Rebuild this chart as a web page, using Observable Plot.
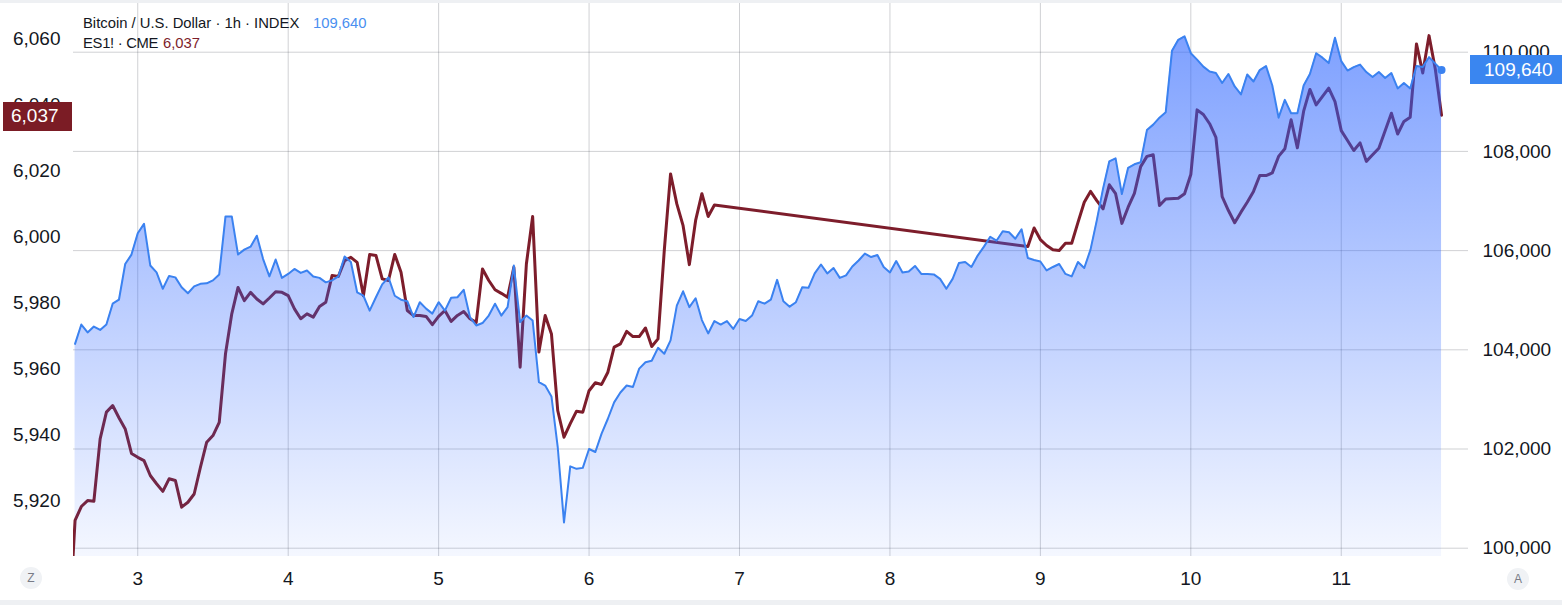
<!DOCTYPE html>
<html>
<head>
<meta charset="utf-8">
<script src="https://cdn.jsdelivr.net/npm/d3@7"></script>
<script src="https://cdn.jsdelivr.net/npm/@observablehq/plot@0.6"></script>
<style>
  html, body { margin: 0; padding: 0; background: #fff; }
  #wrap { position: relative; width: 1562px; height: 605px; overflow: hidden; font-family: "Liberation Sans", Arial, sans-serif; color: #131722; }
  #wrap svg { position: absolute; left: 0; top: 0; }
  .ov { position: absolute; white-space: nowrap; }
  .hdr { font-size: 14.8px; line-height: 20px; }
  .boxtxt { color: #fff; font-size: 19px; line-height: 14px; height: 14px; }
  .btn { width: 22px; height: 22px; border-radius: 50%; background: #f0f2f5; color: #787b86; font-size: 12px; line-height: 22px; text-align: center; }
</style>
</head>
<body>
<div id="wrap"></div>
<script>
// ---- data (hourly closes, UTC) ----
// Bitcoin / U.S. Dollar, 1h, from 2025-06-02 14:00 UTC
const btcClose = [
  104120,104510,104350,104470,104400,104510,104930,105010,105730,105920,
  106350,106540,105700,105560,105230,105490,105460,105260,105140,105280,
  105330,105340,105400,105520,106690,106690,105920,106020,106080,106300,
  105830,105480,105820,105450,105530,105630,105550,105600,105480,105450,
  105360,105400,105480,105880,105770,105160,105090,104790,105060,105320,
  105460,105090,105010,104980,104660,104960,104830,104730,104960,104790,
  105050,105060,105210,104660,104490,104540,104690,104930,104690,104860,
  105700,104560,104690,104590,103350,103280,103060,102040,100520,101650,
  101600,101620,102000,101940,102310,102610,102940,103140,103280,103250,
  103620,103750,103780,104040,103920,104190,104890,105180,104860,105040,
  104600,104330,104580,104510,104580,104420,104620,104580,104690,104980,
  104930,105010,105410,104980,104870,104960,105260,105250,105540,105720,
  105540,105650,105450,105500,105680,105800,105940,105870,105910,105670,
  105560,105790,105560,105580,105690,105530,105530,105520,105430,105230,
  105430,105750,105770,105670,105900,106080,106280,106200,106390,106370,
  106240,106430,105850,105810,105780,105600,105670,105730,105530,105480,
  105770,105650,106020,106610,107250,107800,107860,107140,107670,107740,
  107780,108430,108540,108680,108790,110030,110250,110320,109980,109850,
  109710,109610,109580,109380,109560,109310,109150,109550,109410,109640,
  109720,109330,108680,109040,108770,108770,109330,109560,109980,109890,
  109780,110290,109820,109630,109700,109750,109600,109500,109600,109480,
  109580,109270,109380,109270,109720,109700,109900,109770,109640
];
// ES1! (CME), 1h, week session from 2025-06-02 13:00 UTC to 2025-06-06 20:00 UTC
const esCloseWeek1 = [
  5880,
  5914.2,5918.4,5920.2,5920,5938.9,5947,5949,5945.3,5941.9,5934.5,
  5933.3,5932.3,5927.8,5925.3,5923,5926.8,5926.3,5918.2,5919.7,5922.2,
  5930.3,5937.9,5939.9,5943.9,5964.7,5976.8,5984.8,5980.8,5983.3,5981.3,
  5979.8,5981.6,5983.5,5983.3,5982.3,5978.3,5975.3,5976.8,5975.8,5979,
  5980.3,5988.4,5988.1,5992.9,5993.9,5992.4,5982.3,5994.8,5994.5,5987.4,
  5986.9,5994.8,5989.4,5977.8,5976.3,5976.3,5976,5973.5,5976,5977.8,
  5974.5,5976.3,5977.5,5975.3,5974.2,5990.4,5986.9,5984.1,5983,5981.8,
  5990.9,5960.6,5991.9,6006.3,5965.2,5976.3,5970.7,5947.5,5939.4,5943.5,
  5947.3,5947,5953.5,5955.9,5955.4,5959.1,5966.7,5967.7,5971.5,5969.9,
  5969.9,5972.5,5966.9,5969.2,5996,6019.2,6010.1,6003.5,5991.7,6005.1,
  6013.2,6006.3,6009.8
];
// ES1! from 2025-06-08 22:00 UTC to 2025-06-11 17:00 UTC (null = daily maintenance break)
const esCloseWeek2 = [
  5997.2,6002.8,5999.3,5997.5,5996.2,5996,5998.2,5998.2,
  6004.5,6010.6,6013.9,6011.1,6008.6,6015.9,6013.2,6004.2,6009.1,6013.3,
  6021.4,6024.5,6025,6009.6,6011.6,null,6011.8,6013.2,6019,6038.6,
  6037.2,6034.4,6030.3,6012.3,6008.1,6004.4,6007.6,6010.6,6013.9,6018.7,
  6018.7,6019.5,6024.5,6026.8,6035.6,6027.1,6038.2,6044.8,6040.1,null,
  6045.2,6041.1,6032.3,6029.3,6026.3,6028.6,6023,6025,6027,6032.3,
  6037.6,6031.3,6035.1,6036.4,6058.6,6049.8,6061.1,6051,6037
];
const dayTicks = [3, 4, 5, 6, 7, 8, 9, 10, 11];
const esTicks = [5920, 5940, 5960, 5980, 6000, 6020, 6040, 6060];
const btcTicks = [100000, 102000, 104000, 106000, 108000, 110000];
const btcLast = 109640;
const esLast = 6037;

// ---- build ----
const HOUR = 3600e3;
const btcStart = Date.UTC(2025, 5, 2, 14);
const es1Start = Date.UTC(2025, 5, 2, 13);
const es2Start = Date.UTC(2025, 5, 8, 22);
const btc = btcClose.map((v, i) => ({t: new Date(btcStart + i * HOUR), v}));
const es = [
  ...esCloseWeek1.map((v, i) => ({t: new Date(es1Start + i * HOUR), v})),
  ...esCloseWeek2.map((v, i) => ({t: new Date(es2Start + i * HOUR), v}))
].filter(d => d.v != null);

// dual scale: ES price mapped onto the BTC price axis
const esToBtc = d3.scaleLinear([5920, 6060], [100947, 110261]);
const yDomain = [99833, 110982];
const xDomain = [new Date(Date.UTC(2025, 5, 2, 13, 45)), new Date(Date.UTC(2025, 5, 11, 20, 18))];
const dayDates = dayTicks.map(d => new Date(Date.UTC(2025, 5, d)));

const BLUE = "#3b82f0";
const RED = "#7d1d2b";
const FONT = '"Liberation Sans", Arial, sans-serif';
const fmt = d3.format(",");

const chart = Plot.plot({
  width: 1562,
  height: 605,
  marginLeft: 73,
  marginRight: 94,
  marginTop: 3,
  marginBottom: 49,
  style: {fontFamily: FONT, fontSize: "19px", color: "#131722", background: "transparent", overflow: "visible"},
  x: {type: "utc", domain: xDomain},
  y: {domain: yDomain},
  marks: [
    Plot.gridX(dayDates, {stroke: "#2a2e39", strokeOpacity: 0.22}),
    Plot.gridY(btcTicks, {stroke: "#2a2e39", strokeOpacity: 0.22}),
    Plot.lineY(es, {x: "t", y: d => esToBtc(d.v), stroke: RED, strokeWidth: 3, clip: true}),
    Plot.areaY(btc, {x: "t", y1: yDomain[0], y2: "v", fill: "url(#btcGrad)"}),
    Plot.lineY(btc, {x: "t", y: "v", stroke: BLUE, strokeWidth: 2}),
    Plot.dot(btc.slice(-1), {x: "t", y: "v", r: 4, fill: BLUE}),
    Plot.axisY(esTicks.map(v => esToBtc(v)), {anchor: "left", tickSize: 0, tickPadding: 13, label: null,
      tickFormat: d => fmt(Math.round(esToBtc.invert(d)))}),
    Plot.axisY(btcTicks, {anchor: "right", tickSize: 0, tickPadding: 14, label: null, tickFormat: fmt}),
    Plot.axisX(dayDates, {anchor: "bottom", tickSize: 0, tickPadding: 15, label: null,
      tickFormat: d => String(d.getUTCDate())})
  ]
});

const y = chart.scale("y");
const ns = "http://www.w3.org/2000/svg";
const defs = document.createElementNS(ns, "defs");
const gTop = y.apply(d3.max(btcClose));
const gBot = y.apply(yDomain[0]);
defs.innerHTML = `<linearGradient id="btcGrad" gradientUnits="userSpaceOnUse" x1="0" y1="${gTop}" x2="0" y2="${gBot}">
  <stop offset="0" stop-color="#2962ff" stop-opacity="0.6"/>
  <stop offset="1" stop-color="#2962ff" stop-opacity="0.05"/>
</linearGradient>`;
chart.prepend(defs);

const wrap = document.getElementById("wrap");
wrap.appendChild(chart);

function ov(html, css, cls) {
  const el = document.createElement("div");
  el.className = "ov " + (cls || "");
  el.innerHTML = html;
  Object.assign(el.style, css);
  wrap.appendChild(el);
  return el;
}
// bands
ov("", {left: "0px", top: "0px", width: "1562px", height: "3px", background: "#eef0f3"});
ov("", {left: "0px", top: "600px", width: "1562px", height: "5px", background: "#eef0f3"});
// legend header
ov("Bitcoin / U.S. Dollar · 1h · INDEX", {left: "83px", top: "12.7px"}, "hdr");
ov(fmt(btcLast), {left: "313px", top: "12.7px", color: "#4a8ff0"}, "hdr");
ov("ES1! · CME", {left: "83px", top: "33.3px", letterSpacing: "-0.3px"}, "hdr");
ov(fmt(esLast), {left: "163px", top: "33.3px", color: RED}, "hdr");
// price labels (background boxes, then text)
const yEs = y.apply(esToBtc(esLast));
ov("", {left: "3px", top: (yEs - 13) + "px", width: "69px", height: "29px", background: "#7b1c25"});
ov(fmt(esLast), {left: "11px", top: (yEs + 1.5 - 7) + "px"}, "boxtxt");
const yBtc = y.apply(btcLast);
ov("", {left: "1470px", top: (yBtc - 14.5) + "px", width: "92px", height: "29px", background: "#3a86f0"});
ov(fmt(btcLast), {left: "1484px", top: (yBtc - 7) + "px"}, "boxtxt");
// corner buttons
ov("Z", {left: "20px", top: "567px"}, "btn");
ov("A", {left: "1507px", top: "568px"}, "btn");
</script>
</body>
</html>
